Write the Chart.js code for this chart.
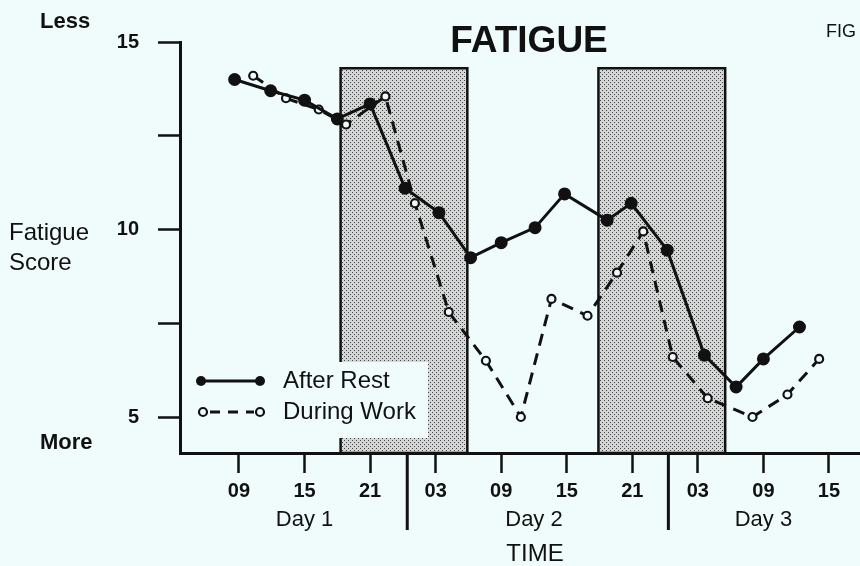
<!DOCTYPE html>
<html>
<head>
<meta charset="utf-8">
<script src="https://cdn.jsdelivr.net/npm/chart.js@4.4.1/dist/chart.umd.min.js"></script>
<style>
  html, body { margin: 0; padding: 0; background: #f0fcfc; overflow: hidden; }
  #wrap { width: 860px; height: 566px; position: relative; }
  canvas { display: block; }
</style>
</head>
<body>
<div id="wrap"><canvas id="chart" width="860" height="566"></canvas></div>
<script>
// hours counted from midnight at the start of Day 1
const afterRestHours = [8.6, 11.9, 15.0, 18.0, 21.0, 24.2, 27.3, 30.2, 33.0, 36.1, 38.8, 42.7, 44.9, 48.2, 51.6, 54.5, 57.0, 60.3]
const afterRestScores = [14.0, 13.7, 13.45, 12.95, 13.35, 11.1, 10.45, 9.25, 9.65, 10.05, 10.95, 10.25, 10.7, 9.45, 6.65, 5.8, 6.55, 7.4]

const duringWorkHours = [10.3, 13.3, 16.3, 18.8, 22.4, 25.1, 28.2, 31.6, 34.8, 37.6, 40.9, 43.6, 46.0, 48.7, 51.9, 56.0, 59.2, 62.1]
const duringWorkScores = [14.1, 13.5, 13.2, 12.8, 13.55, 10.7, 7.8, 6.5, 5.0, 8.15, 7.7, 8.85, 9.95, 6.6, 5.5, 5.0, 5.6, 6.55]

const xTickHours = [9, 15, 21, 27, 33, 39, 45, 51, 57, 63]
const yTickValues = [5, 7.5, 10, 12.5, 15]
const yLabelled = [5, 10, 15]
const dayLabels = ['Day 1', 'Day 2', 'Day 3']
const dayCentres = [15, 36, 57]
const dayBreaks = [24.4, 48.3]
// shaded sleep periods (start hour, end hour)
const sleepStarts = [18.3, 41.9]
const sleepEnds = [29.9, 53.5]
const sleepTop = 14.3

const BG = '#f0fcfc'
const INK = '#111'
const FONT = '"Liberation Sans", Arial, sans-serif'

// 点状灰色底纹
function makePattern(ctx) {
  const c = document.createElement('canvas')
  c.width = 4
  c.height = 4
  const p = c.getContext('2d')
  p.fillStyle = '#d2d6d6'
  p.fillRect(0, 0, 4, 4)
  p.fillStyle = '#444'
  p.fillRect(0, 0, 1, 1)
  p.fillRect(2, 2, 1, 1)
  return ctx.createPattern(c, 'repeat')
}

const sleepBoxes = {
  id: 'sleepBoxes',
  beforeDatasetsDraw(chart) {
    const { ctx, scales: { x, y }, chartArea } = chart
    ctx.save()
    const pat = makePattern(ctx)
    sleepStarts.forEach((s, i) => {
      const x1 = x.getPixelForValue(s)
      const x2 = x.getPixelForValue(sleepEnds[i])
      const top = y.getPixelForValue(sleepTop)
      ctx.fillStyle = pat
      ctx.fillRect(x1, top, x2 - x1, chartArea.bottom - top)
      ctx.strokeStyle = INK
      ctx.lineWidth = 2.5
      ctx.strokeRect(x1, top, x2 - x1, chartArea.bottom - top)
    })
    ctx.restore()
  }
}

const annotations = {
  id: 'annotations',
  afterDraw(chart) {
    const { ctx, scales: { x } } = chart
    ctx.save()
    ctx.fillStyle = INK
    ctx.textBaseline = 'middle'

    // legend
    ctx.fillStyle = BG
    ctx.fillRect(188, 362, 240, 76)
    ctx.fillStyle = INK
    ctx.strokeStyle = INK
    ctx.lineWidth = 3
    ctx.beginPath()
    ctx.moveTo(201, 381)
    ctx.lineTo(260, 381)
    ctx.stroke()
    ;[201, 260].forEach(cx => {
      ctx.beginPath()
      ctx.arc(cx, 381, 5, 0, Math.PI * 2)
      ctx.fill()
    })
    ctx.setLineDash([10, 8])
    ctx.beginPath()
    ctx.moveTo(210, 412)
    ctx.lineTo(254, 412)
    ctx.stroke()
    ctx.setLineDash([])
    ctx.lineWidth = 2.2
    ;[203, 260].forEach(cx => {
      ctx.beginPath()
      ctx.arc(cx, 412, 4, 0, Math.PI * 2)
      ctx.fillStyle = BG
      ctx.fill()
      ctx.stroke()
    })
    ctx.fillStyle = INK
    ctx.font = '24px ' + FONT
    ctx.textAlign = 'left'
    ctx.fillText('After Rest', 283, 381)
    ctx.fillText('During Work', 283, 412)

    // title and side labels
    ctx.textAlign = 'center'
    ctx.font = 'bold 37px ' + FONT
    ctx.fillText('FATIGUE', 529, 42)
    ctx.textAlign = 'left'
    ctx.font = '18px ' + FONT
    ctx.fillText('FIG', 826, 32)
    ctx.font = 'bold 22px ' + FONT
    ctx.fillText('Less', 40, 22)
    ctx.fillText('More', 40, 443)
    ctx.font = '24px ' + FONT
    ctx.fillText('Fatigue', 9, 233)
    ctx.fillText('Score', 9, 263)

    // day labels, day breaks and axis title
    ctx.textAlign = 'center'
    ctx.font = '22px ' + FONT
    dayLabels.forEach((d, i) => ctx.fillText(d, x.getPixelForValue(dayCentres[i]), 520))
    ctx.lineWidth = 3
    dayBreaks.forEach(h => {
      const px = x.getPixelForValue(h)
      ctx.beginPath()
      ctx.moveTo(px, 453)
      ctx.lineTo(px, 530)
      ctx.stroke()
    })
    ctx.font = '24px ' + FONT
    ctx.fillText('TIME', 535, 554)
    ctx.restore()
  }
}

const toPoints = (xs, ys) => xs.map((h, i) => ({ x: h, y: ys[i] }))

new Chart(document.getElementById('chart'), {
  type: 'line',
  data: {
    datasets: [
      {
        label: 'After Rest',
        data: toPoints(afterRestHours, afterRestScores),
        borderColor: INK,
        borderWidth: 3,
        pointRadius: 5,
        pointBackgroundColor: INK,
        pointBorderColor: INK,
        tension: 0
      },
      {
        label: 'During Work',
        data: toPoints(duringWorkHours, duringWorkScores),
        borderColor: INK,
        borderWidth: 3,
        borderDash: [12, 8],
        pointRadius: 4,
        pointBackgroundColor: BG,
        pointBorderColor: INK,
        pointBorderWidth: 2.2,
        tension: 0
      }
    ]
  },
  options: {
    responsive: false,
    animation: false,
    devicePixelRatio: 1,
    layout: { autoPadding: false, padding: { top: 42, left: 0, right: 0, bottom: 0 } },
    plugins: {
      legend: { display: false },
      tooltip: { enabled: false },
      title: { display: false }
    },
    scales: {
      x: {
        type: 'linear',
        min: 3.6,
        max: 65.84,
        afterFit(s) { s.height = 113 },
        afterBuildTicks(s) { s.ticks = xTickHours.map(v => ({ value: v })) },
        ticks: {
          color: INK,
          font: { family: FONT, size: 20, weight: 'bold' },
          padding: 6,
          maxRotation: 0,
          autoSkip: false,
          callback: v => String(v % 24).padStart(2, '0')
        },
        grid: { drawOnChartArea: false, drawTicks: true, tickLength: 20, tickWidth: 2.5, tickColor: INK },
        border: { color: INK, width: 3 }
      },
      y: {
        min: 4.04,
        max: 15,
        afterFit(s) { s.width = 180 },
        afterBuildTicks(s) { s.ticks = yTickValues.map(v => ({ value: v })) },
        ticks: {
          color: INK,
          font: { family: FONT, size: 20, weight: 'bold' },
          padding: 19,
          callback: v => (yLabelled.includes(v) ? String(v) : '')
        },
        grid: { drawOnChartArea: false, drawTicks: true, tickLength: 22, tickWidth: 2.5, tickColor: INK },
        border: { color: INK, width: 3 }
      }
    }
  },
  plugins: [sleepBoxes, annotations]
})
</script>
</body>
</html>
